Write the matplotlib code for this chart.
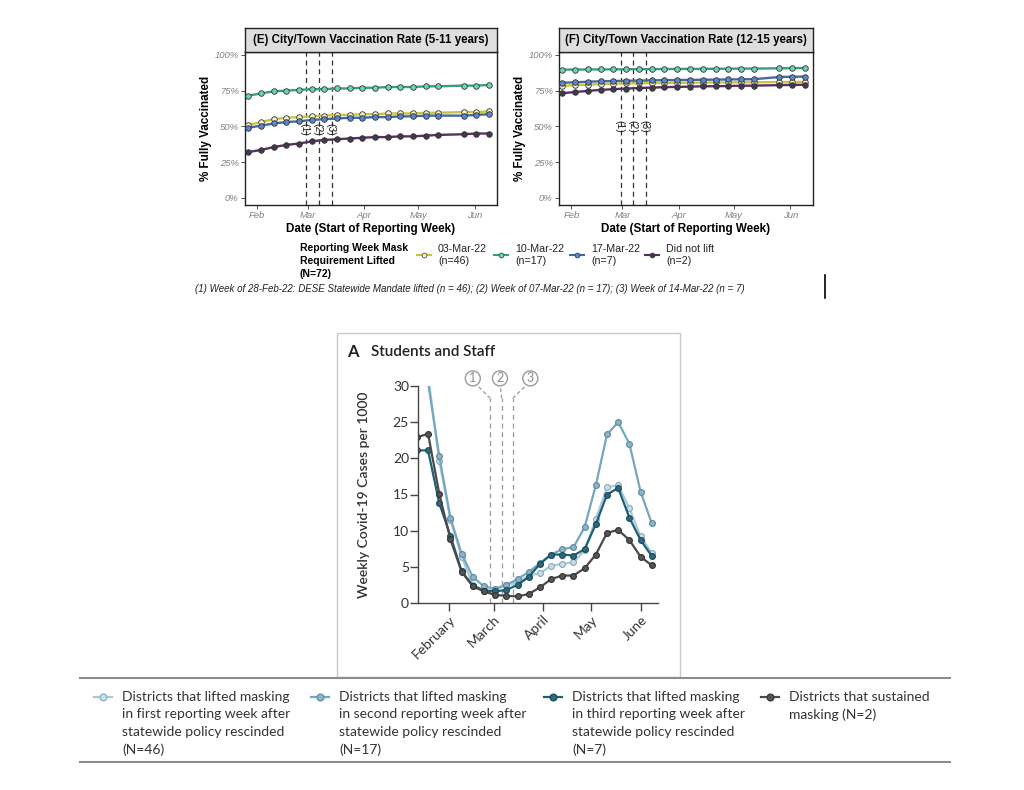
import numpy as np
import matplotlib.pyplot as plt
import matplotlib.dates as mdates
from matplotlib.lines import Line2D
from matplotlib.patches import Rectangle

W, H = 1024, 790


def fx(px):
    return px / W


def fy(py):
    return 1 - py / H


# ---- (E)/(F) vaccination panels: weekly reporting dates ----
vaxWeeks = np.array(['2022-01-27', '2022-02-03', '2022-02-10', '2022-02-17', '2022-02-24',
                     '2022-03-03', '2022-03-10', '2022-03-17', '2022-03-24', '2022-03-31',
                     '2022-04-07', '2022-04-14', '2022-04-21', '2022-04-28', '2022-05-05',
                     '2022-05-12', '2022-05-26', '2022-06-02', '2022-06-09'], dtype='datetime64[D]')
liftWeeks = np.array(['2022-02-28', '2022-03-07', '2022-03-14'], dtype='datetime64[D]')
liftLabels = ['(1)', '(2)', '(3)']

vaxGroups = ['03-Mar-22', '10-Mar-22', '17-Mar-22', 'Did not lift']
vaxCounts = ['(n=46)', '(n=17)', '(n=7)', '(n=2)']

# 5-11 years (% fully vaccinated)
e_mar03 = [51, 53, 55, 56, 56.5, 57, 57.5, 58, 58, 58.5, 58.5, 59, 59, 59, 59.5, 59.5, 60, 60, 60.5]
e_mar10 = [71.5, 73, 74.5, 75, 75.5, 76, 76, 76.5, 76.5, 77, 77, 77.5, 77.5, 77.5, 78, 78, 78.5, 78.5, 79]
e_mar17 = [49, 50.5, 52, 53, 53.5, 54.5, 55, 55.5, 56, 56, 56.5, 56.5, 57, 57, 57.5, 57.5, 57.5, 58, 58.5]
e_never = [32, 33.5, 35.5, 37, 38, 39.5, 40.5, 41, 41.5, 42, 42.5, 42.5, 43, 43, 43.5, 44, 44.5, 45, 45]

# 12-15 years (% fully vaccinated)
f_mar03 = [78.3, 78.8, 79.2, 79.5, 79.8, 80, 80.1, 80.3, 80.4, 80.5, 80.5, 80.6, 80.7, 80.7, 80.8, 80.8, 81, 81, 81.1]
f_mar10 = [89.7, 89.7, 89.8, 89.8, 89.9, 89.9, 90, 90, 90.1, 90.1, 90.2, 90.2, 90.3, 90.3, 90.4, 90.4, 90.6, 90.7, 90.8]
f_mar17 = [80.5, 80.8, 81.2, 81.5, 81.7, 81.9, 82, 82.2, 82.3, 82.4, 82.5, 82.6, 82.7, 82.8, 82.9, 83, 84.5, 84.7, 84.8]
f_never = [73.2, 74, 74.8, 75.5, 76, 76.4, 76.8, 77.1, 77.4, 77.6, 77.8, 78, 78.1, 78.2, 78.4, 78.5, 78.8, 79, 79.1]

# ---- (A) Students and Staff: weekly cases per 1000 ----
caseWeeks = np.array(['2022-01-12', '2022-01-19', '2022-01-26', '2022-02-02', '2022-02-09',
                      '2022-02-16', '2022-02-23', '2022-03-02', '2022-03-09', '2022-03-16',
                      '2022-03-23', '2022-03-30', '2022-04-06', '2022-04-13', '2022-04-20',
                      '2022-04-27', '2022-05-04', '2022-05-11', '2022-05-18', '2022-05-25',
                      '2022-06-01', '2022-06-08'], dtype='datetime64[D]')
caseLiftWeeks = np.array(['2022-02-27', '2022-03-06', '2022-03-13'], dtype='datetime64[D]')

cases_first = [42, 31.5, 19.7, 11.5, 6.4, 2.5, 1.8, 1.8, 2.5, 2.8, 3.8, 4.1, 5.15, 5.4, 5.6, 7.3,
               11.6, 16.0, 16.3, 13.1, 9.2, 6.9]
cases_second = [40, 30.5, 20.3, 11.8, 6.8, 3.6, 2.3, 2.0, 2.5, 3.3, 4.3, 5.5, 6.7, 7.45, 7.7, 10.5,
                16.3, 23.3, 25.0, 22.0, 15.4, 11.0]
cases_third = [21.1, 21.1, 13.8, 9.3, 4.4, 2.4, 1.7, 1.6, 1.8, 2.5, 3.6, 5.4, 6.7, 6.7, 6.55, 7.45,
               10.9, 15.0, 15.9, 11.8, 8.7, 6.5]
cases_sustained = [22.9, 23.4, 15.1, 8.8, 4.3, 2.3, 1.6, 1.1, 1.0, 0.9, 1.25, 2.15, 3.3, 3.8, 3.8, 4.8,
                   6.7, 9.7, 10.1, 8.7, 6.4, 5.2]

caseLabels = ['Districts that lifted masking\nin first reporting week after\nstatewide policy rescinded\n(N=46)',
              'Districts that lifted masking\nin second reporting week after\nstatewide policy rescinded\n(N=17)',
              'Districts that lifted masking\nin third reporting week after\nstatewide policy rescinded\n(N=7)',
              'Districts that sustained\nmasking (N=2)']

# styles
vaxLine = ['#c9c43c', '#3f9a82', '#46689f', '#5a2e62']
vaxFace = ['#f6f2c4', '#6ad6b6', '#5a87cc', '#3e3c4a']
caseLine = ['#a9cadb', '#76a7be', '#1f6077', '#4a4a4a']
caseFace = ['#cadde7', '#8db3c6', '#2e687d', '#555555']
caseEdge = ['#86a9ba', '#5a8aa1', '#1a4b5c', '#333333']

ARIAL = 'Liberation Sans'
LATO = 'Lato'

fig = plt.figure(figsize=(W / 100, H / 100), dpi=100)
fig.patch.set_facecolor('white')

vaxXlim = (mdates.date2num(np.datetime64('2022-01-25')) + 0.2,
           mdates.date2num(np.datetime64('2022-06-13')) + 0.4)


def legendHandle(xc, ypx, halfw, **style):
    # short line with a dot in the middle, placed in figure pixels
    fig.add_artist(Line2D([fx(xc - halfw), fx(xc), fx(xc + halfw)], [fy(ypx)] * 3,
                          marker='o', markevery=[1], **style))


def vaxPanel(leftPx, rightPx, title, series, labelY):
    rect = [fx(leftPx), fy(205), fx(rightPx) - fx(leftPx), fy(52) - fy(205)]
    ax = fig.add_axes(rect)
    for vals, lc in zip(series, vaxLine):
        ax.plot(vaxWeeks, vals, color=lc, lw=1.7, zorder=3)
    for vals, fc in zip(series, vaxFace):
        ax.plot(vaxWeeks, vals, ls='none', marker='o', ms=4, mfc=fc, mec='#333333', mew=0.6, zorder=4)
    for d, lab in zip(liftWeeks, liftLabels):
        ax.axvline(d, color='#333333', ls=(0, (4, 3)), lw=0.9, zorder=2)
        ax.text(mdates.date2num(d) - 0.8, labelY, lab, rotation=270, ha='center', va='center',
                fontsize=7.5, family=ARIAL, color='#222222', zorder=5)
    ax.set_xlim(vaxXlim)
    ax.set_ylim(-5, 102)
    ax.set_yticks([0, 25, 50, 75, 100])
    ax.set_yticklabels(['0%', '25%', '50%', '75%', '100%'])
    ax.xaxis.set_major_locator(mdates.MonthLocator())
    ax.xaxis.set_major_formatter(mdates.DateFormatter('%b'))
    ax.tick_params(length=3, width=0.6, color='#333333', pad=1.5)
    for lab in ax.get_xticklabels() + ax.get_yticklabels():
        lab.set_fontstyle('italic')
        lab.set_fontsize(6.8)
        lab.set_family(ARIAL)
        lab.set_color('#808080')
    for sp in ax.spines.values():
        sp.set_linewidth(1.0)
        sp.set_color('#222222')
    ax.set_ylabel('% Fully Vaccinated', fontsize=8.4, fontweight='bold', family=ARIAL)
    ax.yaxis.set_label_coords(-0.13, 0.5)
    ax.set_xlabel('Date (Start of Reporting Week)', fontsize=8.4, fontweight='bold', family=ARIAL)
    ax.xaxis.set_label_coords(0.5, -0.115)

    strip = fig.add_axes([fx(leftPx), fy(52), fx(rightPx) - fx(leftPx), fy(28) - fy(52)])
    strip.set_facecolor('#dedede')
    strip.set_xticks([])
    strip.set_yticks([])
    for sp in strip.spines.values():
        sp.set_linewidth(1.0)
        sp.set_color('#222222')
    strip.text(0.5, 0.5, title, ha='center', va='center', fontsize=8.3, fontweight='bold',
               family=ARIAL, transform=strip.transAxes)
    return ax


vaxPanel(245, 497, '(E) City/Town Vaccination Rate (5-11 years)',
         [e_mar03, e_mar10, e_mar17, e_never], 48)
vaxPanel(559, 813, '(F) City/Town Vaccination Rate (12-15 years)',
         [f_mar03, f_mar10, f_mar17, f_never], 50)

# top legend
fig.text(fx(300), fy(243), 'Reporting Week Mask\nRequirement Lifted\n(N=72)', ha='left', va='top',
         fontsize=7.5, fontweight='bold', family=ARIAL, linespacing=1.36)
for xpx, grp, cnt, lc, fc in zip([424, 501, 577, 652], vaxGroups, vaxCounts, vaxLine, vaxFace):
    legendHandle(xpx, 255, 7, color=lc, lw=1.5, ms=3.5, mfc=fc, mec='#333333', mew=0.5)
    fig.text(fx(xpx + 14), fy(244), grp + '\n' + cnt, ha='left', va='top', fontsize=7.7,
             family=ARIAL, linespacing=1.3, color='#222222')

fig.text(fx(195), fy(289), '(1) Week of 28-Feb-22: DESE Statewide Mandate lifted (n = 46); '
         '(2) Week of 07-Mar-22 (n = 17); (3) Week of 14-Mar-22 (n = 7)',
         ha='left', va='center', fontsize=7.0, fontstyle='italic', family=ARIAL, color='#222222')
fig.add_artist(Line2D([fx(825), fx(825)], [fy(275), fy(298)], color='black', lw=1.2))

# ---- bottom panel (A) ----
fig.add_artist(Rectangle((fx(337), fy(677)), fx(680) - fx(337), fy(333) - fy(677),
                         fill=False, ec='#c8c8c8', lw=1.0))
fig.text(fx(347), fy(352), 'A', ha='left', va='center', fontsize=12, fontweight='bold',
         family=LATO, color='#222222')
fig.text(fx(371), fy(352), 'Students and Staff', ha='left', va='center', fontsize=11,
         fontweight='semibold', family=LATO, color='#222222')

axA = fig.add_axes([fx(418), fy(603), fx(658) - fx(418), fy(386) - fy(603)])
for vals, lc, fc, ec in zip([cases_first, cases_second, cases_third, cases_sustained],
                            caseLine, caseFace, caseEdge):
    axA.plot(caseWeeks, vals, color=lc, lw=1.6, marker='o', ms=4.2, mfc=fc, mec=ec, mew=0.8)

lineTop = 28.3
circleY = 31.05
circleShift = [-11, -1, 11]
for d, shift, num in zip(caseLiftWeeks, circleShift, ['1', '2', '3']):
    xd = mdates.date2num(d)
    axA.plot([xd, xd], [0, lineTop], color='#9a9a9a', ls=(0, (4, 3)), lw=0.9, zorder=1)
    axA.plot([xd, xd + shift * 0.72], [lineTop, 30.0], color='#9a9a9a', ls=(0, (3, 2)), lw=0.9,
             clip_on=False, zorder=1)
    axA.text(xd + shift, circleY, num, ha='center', va='center', fontsize=9, family=LATO,
             color='#8c8c8c', clip_on=False,
             bbox=dict(boxstyle='circle,pad=0.12', fc='white', ec='#9a9a9a', lw=1.0))

axA.set_xlim(mdates.date2num(np.datetime64('2022-01-12')) + 0.7,
             mdates.date2num(np.datetime64('2022-06-11')) + 0.9)
axA.set_ylim(0, 30)
axA.set_yticks([0, 5, 10, 15, 20, 25, 30])
axA.xaxis.set_major_locator(mdates.MonthLocator(bymonth=[2, 3, 4, 5, 6]))
axA.xaxis.set_major_formatter(mdates.DateFormatter('%B'))
axA.tick_params(axis='y', length=5.5, width=1.0, color='#444444', pad=1)
axA.tick_params(axis='x', length=5.5, width=1.0, color='#444444', pad=2)
for lab in axA.get_yticklabels():
    lab.set_family(LATO)
    lab.set_fontsize(10)
    lab.set_color('#333333')
for lab in axA.get_xticklabels():
    lab.set_family(LATO)
    lab.set_fontsize(10)
    lab.set_color('#333333')
    lab.set_rotation(45)
    lab.set_ha('right')
    lab.set_va('top')
    lab.set_rotation_mode('anchor')
axA.spines['top'].set_visible(False)
axA.spines['right'].set_visible(False)
for s in ['left', 'bottom']:
    axA.spines[s].set_color('#444444')
    axA.spines[s].set_linewidth(1.0)
axA.set_ylabel('Weekly Covid-19 Cases per 1000', fontsize=10, fontweight='semibold', family=LATO,
               color='#333333')
axA.yaxis.set_label_coords(-0.2, 0.5)

# bottom legend
fig.add_artist(Line2D([fx(80), fx(950)], [fy(678), fy(678)], color='#8c8c8c', lw=1.5))
fig.add_artist(Line2D([fx(80), fx(950)], [fy(762), fy(762)], color='#8c8c8c', lw=1.5))
for xpx, lab, lc, fc, ec in zip([103, 320, 553, 770], caseLabels, caseLine, caseFace, caseEdge):
    legendHandle(xpx, 697, 9, color=lc, lw=1.6, ms=5, mfc=fc, mec=ec, mew=0.8)
    fig.text(fx(xpx + 19), fy(691), lab, ha='left', va='top', fontsize=10, family=LATO,
             linespacing=1.55, color='#333333')

fig.savefig('out.png', dpi=100)
